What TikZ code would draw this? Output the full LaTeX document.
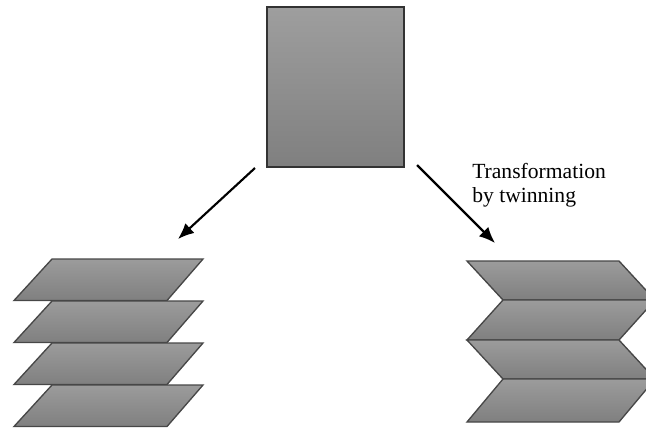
\documentclass[tikz,border=0pt]{standalone}
\usepackage{fontspec}
\setmainfont{Liberation Serif}
\usetikzlibrary{arrows.meta}

\tikzset{
  crystal/.style={draw=black!80, line width=1.5pt, top color=black!38, bottom color=black!50,
                  inner sep=0pt, minimum width=102.75pt, minimum height=120pt},
  plate/.style={draw=black!72, line width=1pt, line join=miter, top color=black!39, bottom color=black!50},
  arrow/.style={line width=1.6pt, -{Latex[length=12pt,width=10pt]}},
  label/.style={font=\fontsize{16.2pt}{18pt}\selectfont, align=left, inner sep=0pt}
}

\begin{document}
\begin{tikzpicture}[x=0.75pt,y=-0.75pt]
    \clip (0,0) rectangle (646,430);

    % parent crystal
    \node[crystal] (crystal) at (335.5,87) {};

    % stacked plates, all leaning the same way
    \foreach \y in {259,301,343,385}
        \draw[plate] (14,\y+41.5) -- (167,\y+41.5) -- (203,\y) -- (52,\y) -- cycle;

    % twinned plates, leaning alternately
    \draw[plate] (467,261) -- (619,261) -- (655,300) -- (503,300) -- cycle;
    \draw[plate] (503,300) -- (655,300) -- (619,340) -- (467,340) -- cycle;
    \draw[plate] (467,340) -- (619,340) -- (655,379) -- (503,379) -- cycle;
    \draw[plate] (503,379) -- (655,379) -- (619,422) -- (467,422) -- cycle;

    % arrows
    \coordinate (lstart) at (255,168);
    \coordinate (lend)   at (178,239);
    \coordinate (rstart) at (417,165);
    \coordinate (rend)   at (495,243);
    \draw[arrow] (lstart) -- (lend);
    \draw[arrow] (rstart) -- (rend);

    \node[label, anchor=north west] (twin) at (472,163) {Transformation\\by twinning};
\end{tikzpicture}
\end{document}
